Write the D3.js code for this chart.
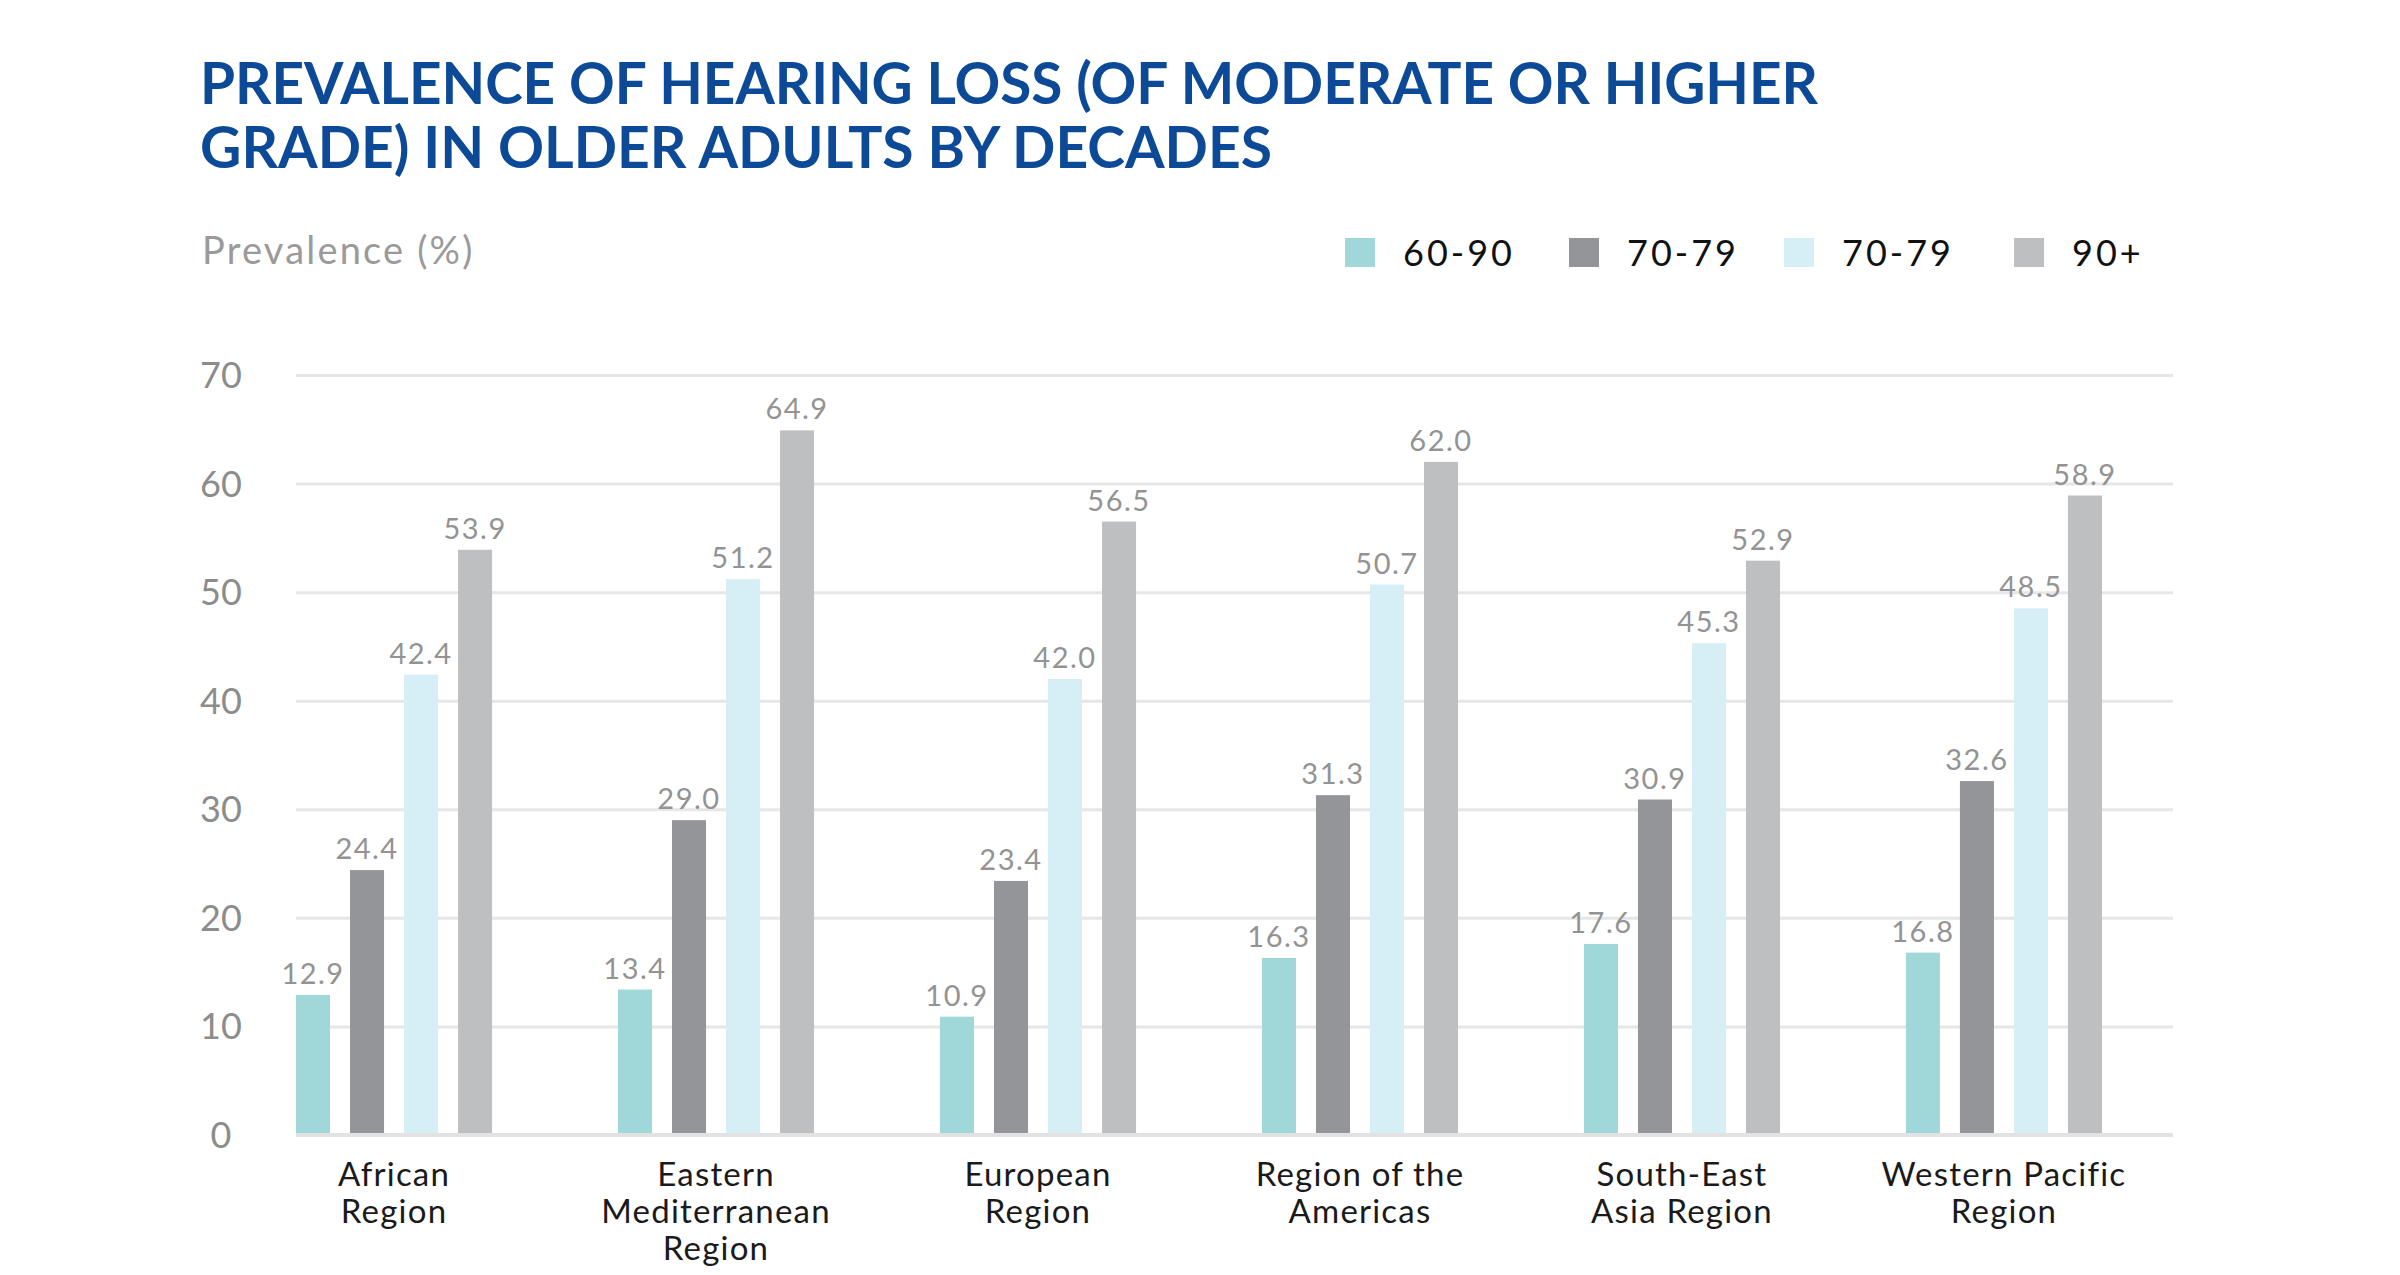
<!DOCTYPE html>
<html>
<head>
<meta charset="utf-8">
<script src="https://cdn.jsdelivr.net/npm/d3@7"></script>
<style>
  body { margin: 0; background: #fff; }
  text { font-family: Lato, "Open Sans", sans-serif; }
</style>
</head>
<body>
<div id="chart"></div>
<script>
// data
const regions = [
    ["African", "Region"],
    ["Eastern", "Mediterranean", "Region"],
    ["European", "Region"],
    ["Region of the", "Americas"],
    ["South-East", "Asia Region"],
    ["Western Pacific", "Region"]
];
const series = ["60-90", "70-79 ", "70-79", "90+"];
const age6090 = [12.9, 13.4, 10.9, 16.3, 17.6, 16.8];
const age7079a = [24.4, 29.0, 23.4, 31.3, 30.9, 32.6];
const age7079b = [42.4, 51.2, 42.0, 50.7, 45.3, 48.5];
const age90 = [53.9, 64.9, 56.5, 62.0, 52.9, 58.9];
const yTicks = [0, 10, 20, 30, 40, 50, 60, 70];

const colors = ["#a0d8da", "#939598", "#d6eef5", "#bdbfc1"];
const seriesValues = [age6090, age7079a, age7079b, age90];

const width = 2400, height = 1275;

const svg = d3.select("#chart")
    .append("svg")
    .attr("width", width)
    .attr("height", height);

// Title
const title = svg.append("g")
    .attr("fill", "#0c4a97")
    .style("font-weight", 700)
    .style("font-size", "57px");
title.append("text")
    .attr("x", 200).attr("y", 104)
    .attr("textLength", 1618).attr("lengthAdjust", "spacingAndGlyphs")
    .text("PREVALENCE OF HEARING LOSS (OF MODERATE OR HIGHER");
title.append("text")
    .attr("x", 200).attr("y", 168)
    .attr("textLength", 1072).attr("lengthAdjust", "spacingAndGlyphs")
    .text("GRADE) IN OLDER ADULTS BY DECADES");

// Y axis label
svg.append("text")
    .attr("x", 202).attr("y", 264)
    .attr("fill", "#9a9a9a")
    .style("font-size", "38px")
    .style("letter-spacing", "2.2px")
    .text("Prevalence (%)");

// Legend
const legendX = [1345, 1569, 1784, 2014];
const legend = svg.append("g")
    .selectAll("g")
    .data(series)
    .enter().append("g")
    .attr("transform", (d, i) => `translate(${legendX[i]},238)`);
legend.append("rect")
    .attr("width", 30).attr("height", 29)
    .attr("fill", (d, i) => colors[i]);
legend.append("text")
    .attr("x", 58).attr("y", 28)
    .attr("fill", "#111")
    .style("font-size", "36px")
    .style("letter-spacing", "3px")
    .text(d => d.trim());

// Scales
const y = d3.scaleLinear()
    .domain([0, 70])
    .range([1135, 375]);

const x0 = d3.scaleBand()
    .domain(d3.range(regions.length))
    .range([296, 2102])
    .paddingInner(0.391)
    .paddingOuter(0);

const x1 = d3.scaleBand()
    .domain(d3.range(series.length))
    .range([0, x0.bandwidth()])
    .paddingInner(0.37)
    .paddingOuter(0);

// Gridlines
const grid = svg.append("g")
    .attr("transform", "translate(296,0)")
    .call(d3.axisLeft(y).tickValues(yTicks).tickSize(-(2173 - 296)).tickFormat(""));
grid.select(".domain").remove();
grid.selectAll(".tick line")
    .attr("stroke", "#e6e6e6")
    .attr("stroke-width", 3);

// Y tick labels
svg.append("g")
    .selectAll("text")
    .data(yTicks)
    .enter().append("text")
    .attr("x", 221)
    .attr("y", d => y(d))
    .attr("dy", "0.36em")
    .attr("text-anchor", "middle")
    .attr("fill", "#8c8c8c")
    .style("font-size", "36px")
    .text(d => d);

// Bars
const groups = svg.append("g")
    .selectAll("g")
    .data(regions)
    .enter().append("g")
    .attr("transform", (d, i) => `translate(${x0(i)},0)`);

groups.each(function(region, gi) {
    const g = d3.select(this);
    const vals = seriesValues.map(s => s[gi]);

    g.selectAll("rect")
        .data(vals)
        .enter().append("rect")
        .attr("x", (d, i) => x1(i))
        .attr("y", d => y(d))
        .attr("width", x1.bandwidth())
        .attr("height", d => y(0) - y(d))
        .attr("fill", (d, i) => colors[i]);

    g.selectAll("text.value")
        .data(vals)
        .enter().append("text")
        .attr("class", "value")
        .attr("x", (d, i) => x1(i) + x1.bandwidth() / 2)
        .attr("y", d => y(d) - 11)
        .attr("text-anchor", "middle")
        .attr("fill", "#939393")
        .style("font-size", "29px")
        .style("letter-spacing", "1.5px")
        .text(d => d.toFixed(1));

    const label = g.append("text")
        .attr("text-anchor", "middle")
        .attr("fill", "#1a1a1a")
        .style("font-size", "33px")
        .style("letter-spacing", "1.2px");
    region.forEach((line, li) => {
        label.append("tspan")
            .attr("x", x0.bandwidth() / 2)
            .attr("y", 1186 + li * 37)
            .text(line);
    });
});

// baseline on top of bars
svg.append("line")
    .attr("x1", 296).attr("x2", 2173)
    .attr("y1", y(0)).attr("y2", y(0))
    .attr("stroke", "#e2e2e2")
    .attr("stroke-width", 4);
</script>
</body>
</html>
